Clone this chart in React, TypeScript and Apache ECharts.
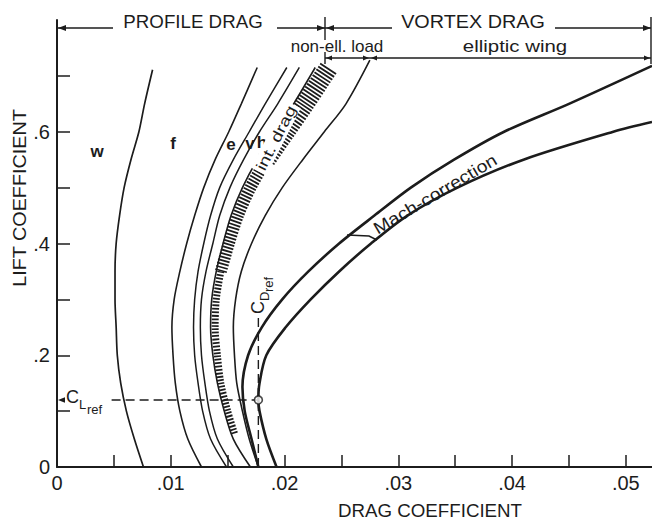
import React, { useEffect, useRef } from "react";
import * as echarts from "echarts";

// ---- axes ----
const xTickValues = [0, 0.005, 0.01, 0.015, 0.02, 0.025, 0.03, 0.035, 0.04, 0.045, 0.05];
const xLabelValues = [0, 0.01, 0.02, 0.03, 0.04, 0.05];
const yTickValues = [0, 0.1, 0.2, 0.3, 0.4, 0.5, 0.6, 0.7];
const yLabelValues = [0, 0.2, 0.4, 0.6];

// ---- profile drag build-up curves [CD, CL] ----
const curveW = [[0.0076, 0], [0.0068, 0.05], [0.0061, 0.1], [0.0056, 0.15], [0.0053, 0.2], [0.0052, 0.25], [0.0051, 0.3], [0.0051, 0.35], [0.0052, 0.4], [0.0055, 0.45], [0.0059, 0.5], [0.0065, 0.55], [0.0072, 0.6], [0.0077, 0.65], [0.0084, 0.711]];
const curveF = [[0.0127, 0], [0.0115, 0.05], [0.0108, 0.1], [0.0104, 0.15], [0.0102, 0.2], [0.0101, 0.25], [0.0103, 0.3], [0.0108, 0.35], [0.0114, 0.4], [0.0121, 0.45], [0.0129, 0.5], [0.0139, 0.55], [0.0151, 0.6], [0.0162, 0.65], [0.0176, 0.715]];
const curveE = [[0.0149, 0], [0.0135, 0.05], [0.0128, 0.1], [0.0124, 0.15], [0.0121, 0.2], [0.012, 0.25], [0.0121, 0.3], [0.0124, 0.35], [0.0129, 0.4], [0.0135, 0.45], [0.0143, 0.5], [0.0155, 0.55], [0.0169, 0.6], [0.0183, 0.65], [0.0202, 0.715]];
const curveV = [[0.0155, 0], [0.0141, 0.05], [0.0134, 0.1], [0.013, 0.15], [0.0127, 0.2], [0.0126, 0.25], [0.0127, 0.3], [0.0131, 0.35], [0.0137, 0.4], [0.0143, 0.45], [0.0152, 0.5], [0.0164, 0.55], [0.0178, 0.6], [0.0194, 0.65], [0.0213, 0.715]];
const curveH = [[0.017, 0], [0.0155, 0.05], [0.0147, 0.1], [0.0141, 0.15], [0.0137, 0.2], [0.0135, 0.25], [0.0136, 0.3], [0.014, 0.35], [0.0146, 0.4], [0.0153, 0.45], [0.0163, 0.5], [0.0176, 0.55], [0.0192, 0.6], [0.0208, 0.65], [0.0227, 0.715]];
// interference drag band (centre line)
const intDragLow = [[0.0156, 0.06], [0.015, 0.1], [0.0144, 0.15], [0.0141, 0.2], [0.0139, 0.25], [0.014, 0.3], [0.0144, 0.35]];
const intDragMid = [[0.0144, 0.35], [0.0151, 0.4], [0.0159, 0.45], [0.017, 0.5], [0.0184, 0.55]];
const intDragTop = [[0.0184, 0.55], [0.0201, 0.6], [0.0218, 0.65], [0.0239, 0.715]];
// profile drag + non-elliptic load
const curveNonEll = [[0.0177, 0], [0.0169, 0.05], [0.0163, 0.1], [0.0158, 0.15], [0.0156, 0.2], [0.0155, 0.25], [0.0157, 0.3], [0.0162, 0.35], [0.0171, 0.4], [0.0183, 0.45], [0.0198, 0.5], [0.0216, 0.55], [0.0235, 0.6], [0.0254, 0.65], [0.0275, 0.728]];
// total drag (elliptic wing) and Mach-corrected total drag
const curveTotal = [[0.0177, 0], [0.0171, 0.05], [0.0165, 0.1], [0.0163, 0.143], [0.0168, 0.2], [0.018, 0.25], [0.0198, 0.3], [0.0221, 0.35], [0.0248, 0.4], [0.0279, 0.45], [0.0311, 0.5], [0.0349, 0.55], [0.0393, 0.6], [0.045, 0.65], [0.0523, 0.718]];
const curveMach = [[0.0193, 0], [0.0184, 0.05], [0.0178, 0.1], [0.0177, 0.12], [0.0178, 0.15], [0.0184, 0.2], [0.0201, 0.25], [0.0223, 0.3], [0.0248, 0.35], [0.0276, 0.4], [0.0308, 0.45], [0.0352, 0.5], [0.041, 0.55], [0.0489, 0.6], [0.0523, 0.6174]];
// reference point
const CD_REF = 0.0177;
const CL_REF = 0.12;
const refLineCL = [[0.0048, CL_REF], [CD_REF, CL_REF]];
const refLineCD = [[CD_REF, 0], [CD_REF, 0.27]];

const FONT = '"Liberation Sans", Arial, Helvetica, sans-serif';
const INK = "#1c1c1c";

function fmt(v: number) {
  if (v === 0) return "0";
  return String(+v.toFixed(3)).replace(/^0/, "");
}

function hline(x1: number, x2: number, y: number, w = 1.4) {
  return { type: "line", z: 20, shape: { x1, y1: y, x2, y2: y }, style: { stroke: INK, lineWidth: w } };
}
function vline(x: number, y1: number, y2: number, w = 1.4) {
  return { type: "line", z: 20, shape: { x1: x, y1, x2: x, y2 }, style: { stroke: INK, lineWidth: w } };
}
function arrow(tipX: number, tipY: number, dir: "l" | "r", len = 8, half = 3) {
  const b = dir === "l" ? tipX + len : tipX - len;
  return { type: "polygon", z: 21, shape: { points: [[tipX, tipY], [b, tipY - half], [b, tipY + half]] }, style: { fill: INK } };
}
function txt(text: string, x: number, y: number, size: number, extra: any = {}, styleExtra: any = {}) {
  return {
    type: "text",
    z: 22,
    x,
    y,
    ...extra,
    style: {
      text,
      fill: INK,
      fontSize: size,
      fontFamily: FONT,
      align: "center",
      verticalAlign: "middle",
      textAlign: "center",
      textVerticalAlign: "middle",
      ...styleExtra,
    },
  };
}

function line(data: number[][], width: number, extra: any = {}) {
  return {
    type: "line",
    data,
    smooth: 0.3,
    showSymbol: false,
    symbol: "none",
    silent: true,
    z: 3,
    lineStyle: { color: INK, width },
    ...extra,
  };
}

export default function App() {
  const ref = useRef<HTMLDivElement>(null);
  useEffect(() => {
    if (!ref.current) return;
    const chart = echarts.init(ref.current, undefined, { renderer: "svg" });
    const axisCommon = {
      type: "value",
      splitLine: { show: false },
      axisLine: { show: true, onZero: false, lineStyle: { color: INK, width: 2 } },
    };
    const hatch = (w: number) => ({ lineStyle: { color: INK, width: w, type: [1.8, 1.6], cap: "butt" } });
    const option: any = {
      animation: false,
      backgroundColor: "#ffffff",
      grid: { left: 57, right: 0, top: 20, bottom: 55 },
      xAxis: {
        ...axisCommon,
        min: 0,
        max: 0.0523,
        axisTick: { show: true, inside: true, length: 12, lineStyle: { color: INK, width: 1.5 }, customValues: xTickValues },
        axisLabel: { customValues: xLabelValues, formatter: fmt, fontSize: 20, fontFamily: FONT, color: INK, margin: 6 },
      },
      yAxis: {
        ...axisCommon,
        min: 0,
        max: 0.8,
        axisTick: { show: true, inside: true, length: 13, lineStyle: { color: INK, width: 1.5 }, customValues: yTickValues },
        axisLabel: { customValues: yLabelValues, formatter: fmt, fontSize: 20, fontFamily: FONT, color: INK, margin: 7 },
      },
      series: [
        line(curveW, 1.7),
        line(curveF, 1.6),
        line(curveE, 1.5),
        line(curveV, 1.5),
        line(curveH, 1.6),
        line(intDragLow, 7, hatch(7)),
        line(intDragMid, 12, hatch(12)),
        line(intDragTop, 19, hatch(19)),
        line(curveNonEll, 1.6),
        line(curveTotal, 2.6),
        line(curveMach, 2.6),
        line(refLineCL, 1.4, { smooth: false, lineStyle: { color: INK, width: 1.4, type: [9, 5] } }),
        line(refLineCD, 1.4, { smooth: false, lineStyle: { color: INK, width: 1.4, type: [9, 5] } }),
        {
          type: "scatter",
          data: [[CD_REF, CL_REF]],
          symbol: "circle",
          symbolSize: 8,
          silent: true,
          z: 6,
          itemStyle: { color: "#ffffff", borderColor: INK, borderWidth: 1.6 },
        },
      ],
      graphic: [
        // top row: PROFILE DRAG / VORTEX DRAG
        hline(57, 113, 28),
        arrow(58, 28, "l"),
        txt("PROFILE DRAG", 193, 22, 18, { scaleX: 1.04 }),
        hline(277, 325, 28),
        arrow(325, 28, "r"),
        vline(325, 17, 40),
        hline(325, 392, 28),
        arrow(326, 28, "l"),
        txt("VORTEX DRAG", 473, 22, 18, { scaleX: 1.1 }),
        hline(555, 651, 28),
        arrow(651, 28, "r"),
        vline(651, 17, 64),
        // second row
        vline(325, 52, 64),
        hline(325, 651, 58),
        arrow(326, 58, "l", 6, 2.5),
        arrow(369, 58, "r", 6, 2.5),
        arrow(371, 58, "l", 6, 2.5),
        arrow(650, 58, "r", 6, 2.5),
        txt("non-ell. load", 337, 46, 17),
        txt("elliptic wing", 515, 46, 17, { scaleX: 1.2 }),
        // curve labels
        txt("w", 97, 151, 17, {}, { fontWeight: "bold" }),
        txt("f", 173, 143, 17, {}, { fontWeight: "bold" }),
        txt("e", 231, 144, 17, {}, { fontWeight: "bold" }),
        txt("v", 250, 143, 17, {}, { fontWeight: "bold" }),
        txt("h", 262, 142, 17, {}, { fontWeight: "bold" }),
        txt("int. drag", 276, 138, 15, { rotation: 1.1, scaleX: 1.3 }, { backgroundColor: "#ffffff", padding: [1, 2] }),
        // Mach correction
        txt("Mach-correction", 435, 194, 17, { rotation: 0.534, scaleX: 1.15 }),
        {
          type: "polyline",
          z: 20,
          shape: { points: [[347, 235], [369, 236], [377, 240]] },
          style: { stroke: INK, lineWidth: 1.4, fill: null },
        },
        // CL ref
        arrow(58, 400, "l", 7, 2.8),
        txt("C", 66, 397, 18, {}, { align: "left", textAlign: "left" }),
        txt("L", 79, 404, 13, {}, { align: "left", textAlign: "left" }),
        txt("ref", 87, 409, 13, {}, { align: "left", textAlign: "left" }),
        // CD ref (rotated)
        {
          type: "group",
          x: 258,
          y: 314,
          rotation: Math.PI / 2,
          z: 22,
          children: [
            txt("C", 0, 0, 18, {}, { align: "left", textAlign: "left" }),
            txt("D", 13, 6, 13, {}, { align: "left", textAlign: "left" }),
            txt("ref", 22, 10, 13, {}, { align: "left", textAlign: "left" }),
          ],
        },
        // axis names
        txt("DRAG COEFFICIENT", 430, 511, 18, { scaleX: 1.04 }),
        txt("LIFT COEFFICIENT", 20, 198, 18, { rotation: Math.PI / 2, scaleX: 1.1 }),
      ],
    };
    chart.setOption(option);
    return () => chart.dispose();
  }, []);
  return (
    <div
      ref={ref}
      style={{ position: "fixed", left: 0, top: 0, width: 652, height: 522, background: "#ffffff" }}
    />
  );
}
